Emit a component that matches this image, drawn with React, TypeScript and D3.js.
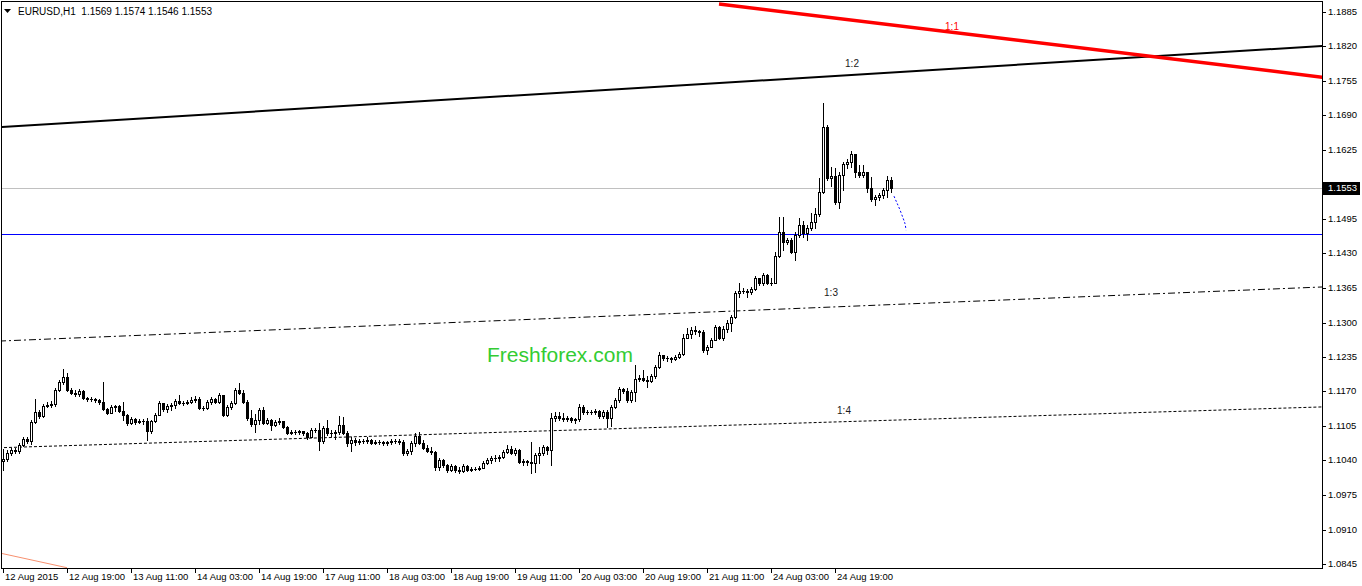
import React from 'react';
import * as d3 from 'd3';

// ---------- DATA ----------
const headerSymbol = 'EURUSD,H1';
const headerValues = ['1.1569', '1.1574', '1.1546', '1.1553'];
const firstOpen = 1.1039;

const closes = [
  1.1043, 1.1054, 1.1060, 1.1058, 1.1069, 1.1080, 1.1077, 1.1112, 1.1131, 1.1124,
  1.1143, 1.1144, 1.1146, 1.1173, 1.1188, 1.1197, 1.1173, 1.1167, 1.1165, 1.1171,
  1.1158, 1.1156, 1.1156, 1.1154, 1.1150, 1.1137, 1.1129, 1.1141, 1.1143, 1.1133,
  1.1126, 1.1111, 1.1118, 1.1112, 1.1114, 1.1114, 1.1096, 1.1114, 1.1126, 1.1148,
  1.1137, 1.1143, 1.1144, 1.1152, 1.1148, 1.1148, 1.1150, 1.1154, 1.1156, 1.1139,
  1.1139, 1.1150, 1.1156, 1.1150, 1.1163, 1.1126, 1.1141, 1.1148, 1.1173, 1.1167,
  1.1150, 1.1120, 1.1109, 1.1116, 1.1135, 1.1111, 1.1116, 1.1107, 1.1112, 1.1114,
  1.1103, 1.1092, 1.1094, 1.1094, 1.1096, 1.1092, 1.1084, 1.1097, 1.1097, 1.1077,
  1.1101, 1.1092, 1.1092, 1.1094, 1.1107, 1.1092, 1.1073, 1.1079, 1.1075, 1.1077,
  1.1077, 1.1079, 1.1073, 1.1075, 1.1075, 1.1073, 1.1075, 1.1077, 1.1077, 1.1075,
  1.1054, 1.1058, 1.1073, 1.1086, 1.1073, 1.1064, 1.1058, 1.1056, 1.1028, 1.1041,
  1.1031, 1.1022, 1.1030, 1.1022, 1.1020, 1.1030, 1.1022, 1.1024, 1.1024, 1.1026,
  1.1035, 1.1041, 1.1045, 1.1045, 1.1047, 1.1056, 1.1062, 1.1054, 1.1060, 1.1037,
  1.1039, 1.1037, 1.1035, 1.1050, 1.1054, 1.1065, 1.1060, 1.1120, 1.1124, 1.1120,
  1.1118, 1.1120, 1.1116, 1.1118, 1.1141, 1.1131, 1.1131, 1.1131, 1.1133, 1.1124,
  1.1131, 1.1120, 1.1141, 1.1154, 1.1175, 1.1171, 1.1154, 1.1169, 1.1194, 1.1195,
  1.1192, 1.1190, 1.1199, 1.1216, 1.1239, 1.1233, 1.1233, 1.1231, 1.1235, 1.1240,
  1.1270, 1.1278, 1.1286, 1.1284, 1.1282, 1.1248, 1.1254, 1.1267, 1.1291, 1.1270,
  1.1288, 1.1299, 1.1310, 1.1355, 1.1359, 1.1359, 1.1357, 1.1363, 1.1383, 1.1374,
  1.1389, 1.1374, 1.1374, 1.1426, 1.1470, 1.1451, 1.1455, 1.1433, 1.1465, 1.1484,
  1.1469, 1.1478, 1.1489, 1.1504, 1.1546, 1.1668, 1.1572, 1.1576, 1.1527, 1.1578,
  1.1598, 1.1602, 1.1617, 1.1583, 1.1578, 1.1583, 1.1553, 1.1533, 1.1537, 1.1540,
  1.1550, 1.1569, 1.1553,
];

const highs = [
  1.1062, 1.1060, 1.1064, 1.1064, 1.1073, 1.1084, 1.1084, 1.1116, 1.1156, 1.1135,
  1.1146, 1.1150, 1.1152, 1.1177, 1.1192, 1.1212, 1.1205, 1.1177, 1.1173, 1.1175,
  1.1173, 1.1160, 1.1160, 1.1158, 1.1156, 1.1188, 1.1139, 1.1144, 1.1144, 1.1144,
  1.1150, 1.1128, 1.1122, 1.1120, 1.1118, 1.1118, 1.1120, 1.1116, 1.1129, 1.1152,
  1.1148, 1.1146, 1.1148, 1.1156, 1.1163, 1.1152, 1.1154, 1.1160, 1.1161, 1.1160,
  1.1143, 1.1154, 1.1160, 1.1158, 1.1167, 1.1161, 1.1144, 1.1152, 1.1177, 1.1186,
  1.1173, 1.1154, 1.1135, 1.1128, 1.1139, 1.1141, 1.1120, 1.1118, 1.1116, 1.1120,
  1.1114, 1.1105, 1.1097, 1.1097, 1.1097, 1.1096, 1.1094, 1.1101, 1.1101, 1.1111,
  1.1105, 1.1116, 1.1097, 1.1097, 1.1124, 1.1122, 1.1096, 1.1084, 1.1082, 1.1080,
  1.1080, 1.1084, 1.1080, 1.1079, 1.1079, 1.1077, 1.1077, 1.1080, 1.1080, 1.1080,
  1.1079, 1.1062, 1.1077, 1.1092, 1.1094, 1.1079, 1.1069, 1.1065, 1.1058, 1.1045,
  1.1043, 1.1033, 1.1033, 1.1031, 1.1028, 1.1033, 1.1031, 1.1028, 1.1028, 1.1030,
  1.1039, 1.1045, 1.1049, 1.1050, 1.1050, 1.1060, 1.1069, 1.1067, 1.1064, 1.1062,
  1.1043, 1.1041, 1.1075, 1.1054, 1.1065, 1.1069, 1.1067, 1.1129, 1.1131, 1.1131,
  1.1129, 1.1124, 1.1122, 1.1120, 1.1146, 1.1144, 1.1135, 1.1135, 1.1137, 1.1135,
  1.1135, 1.1135, 1.1144, 1.1158, 1.1178, 1.1177, 1.1177, 1.1173, 1.1220, 1.1201,
  1.1211, 1.1199, 1.1203, 1.1220, 1.1244, 1.1239, 1.1237, 1.1235, 1.1239, 1.1244,
  1.1278, 1.1289, 1.1291, 1.1293, 1.1286, 1.1286, 1.1258, 1.1271, 1.1295, 1.1293,
  1.1293, 1.1305, 1.1314, 1.1359, 1.1374, 1.1365, 1.1363, 1.1367, 1.1387, 1.1382,
  1.1393, 1.1391, 1.1384, 1.1432, 1.1499, 1.1499, 1.1459, 1.1459, 1.1470, 1.1497,
  1.1491, 1.1484, 1.1506, 1.1516, 1.1572, 1.1714, 1.1672, 1.1593, 1.1591, 1.1584,
  1.1602, 1.1608, 1.1623, 1.1612, 1.1596, 1.1596, 1.1584, 1.1574, 1.1540, 1.1544,
  1.1553, 1.1576, 1.1574,
];

const lows = [
  1.1022, 1.1039, 1.1050, 1.1054, 1.1054, 1.1067, 1.1073, 1.1071, 1.1111, 1.1120,
  1.1122, 1.1141, 1.1141, 1.1143, 1.1171, 1.1184, 1.1171, 1.1165, 1.1161, 1.1161,
  1.1156, 1.1152, 1.1152, 1.1150, 1.1146, 1.1135, 1.1128, 1.1129, 1.1133, 1.1131,
  1.1116, 1.1107, 1.1109, 1.1109, 1.1111, 1.1109, 1.1079, 1.1092, 1.1112, 1.1126,
  1.1133, 1.1131, 1.1135, 1.1139, 1.1146, 1.1144, 1.1146, 1.1148, 1.1150, 1.1137,
  1.1135, 1.1137, 1.1146, 1.1148, 1.1148, 1.1124, 1.1124, 1.1137, 1.1146, 1.1165,
  1.1148, 1.1116, 1.1105, 1.1094, 1.1109, 1.1109, 1.1109, 1.1097, 1.1105, 1.1109,
  1.1101, 1.1090, 1.1090, 1.1090, 1.1090, 1.1088, 1.1080, 1.1084, 1.1094, 1.1060,
  1.1073, 1.1088, 1.1086, 1.1080, 1.1090, 1.1090, 1.1067, 1.1058, 1.1069, 1.1071,
  1.1073, 1.1073, 1.1071, 1.1071, 1.1071, 1.1069, 1.1069, 1.1071, 1.1073, 1.1071,
  1.1050, 1.1050, 1.1052, 1.1067, 1.1071, 1.1062, 1.1056, 1.1052, 1.1022, 1.1022,
  1.1028, 1.1018, 1.1020, 1.1018, 1.1016, 1.1018, 1.1020, 1.1020, 1.1022, 1.1022,
  1.1026, 1.1033, 1.1035, 1.1039, 1.1039, 1.1045, 1.1054, 1.1052, 1.1050, 1.1035,
  1.1031, 1.1031, 1.1016, 1.1018, 1.1035, 1.1050, 1.1052, 1.1031, 1.1114, 1.1116,
  1.1114, 1.1114, 1.1112, 1.1111, 1.1114, 1.1128, 1.1128, 1.1128, 1.1128, 1.1120,
  1.1120, 1.1103, 1.1105, 1.1139, 1.1150, 1.1167, 1.1150, 1.1150, 1.1152, 1.1190,
  1.1190, 1.1178, 1.1188, 1.1195, 1.1214, 1.1229, 1.1227, 1.1225, 1.1229, 1.1233,
  1.1239, 1.1270, 1.1270, 1.1278, 1.1275, 1.1244, 1.1241, 1.1254, 1.1267, 1.1269,
  1.1267, 1.1282, 1.1284, 1.1308, 1.1348, 1.1355, 1.1348, 1.1353, 1.1361, 1.1370,
  1.1370, 1.1372, 1.1370, 1.1380, 1.1423, 1.1437, 1.1448, 1.1431, 1.1418, 1.1461,
  1.1461, 1.1455, 1.1474, 1.1478, 1.1501, 1.1544, 1.1569, 1.1557, 1.1523, 1.1516,
  1.1550, 1.1591, 1.1593, 1.1574, 1.1574, 1.1574, 1.1546, 1.1529, 1.1521, 1.1531,
  1.1535, 1.1537, 1.1546,
];

const priceTicks = [
  1.0845, 1.0910, 1.0975, 1.1040, 1.1105, 1.1170, 1.1235, 1.1300, 1.1365,
  1.1430, 1.1495, 1.1560, 1.1625, 1.1690, 1.1755, 1.1820, 1.1885,
];

const timeLabels = [
  '12 Aug 2015', '12 Aug 19:00', '13 Aug 11:00', '14 Aug 03:00', '14 Aug 19:00',
  '17 Aug 11:00', '18 Aug 03:00', '18 Aug 19:00', '19 Aug 11:00', '20 Aug 03:00',
  '20 Aug 19:00', '21 Aug 11:00', '24 Aug 03:00', '24 Aug 19:00',
];
const barsPerTimeLabel = 16;

const bidPrice = 1.1553;
const bluePrice = 1.1467;

// trend lines: [barIndex, price]
const line11: [number, number][] = [[179, 1.1900], [330, 1.1762]];
const line12: [number, number][] = [[-1, 1.1668], [330, 1.1821]];
const line13: [number, number][] = [[-1, 1.1265], [330, 1.1367]];
const line14: [number, number][] = [[-1, 1.1064], [330, 1.1141]];
const salmonLine: [number, number][] = [[-1, 1.0866], [16, 1.0838]];
const projection: [number, number][] = [
  [222.75, 1.1538], [223.5, 1.1525], [224.25, 1.1512], [225, 1.1497], [225.5, 1.1486], [225.75, 1.1474],
];
const lineLabels = [
  { text: '1:1', i: 237.25, p: 1.1856 },
  { text: '1:2', i: 212.25, p: 1.1787 },
  { text: '1:3', i: 207, p: 1.1354 },
  { text: '1:4', i: 210.25, p: 1.1133 },
];
const watermark = 'Freshforex.com';

// ---------- CHART ----------
const W = 1362;
const H = 586;
const plotRight = 1322;
const plotBottom = 568;

export default function App() {
  const x = d3.scaleLinear().domain([0, 1]).range([3, 7]);
  const y = d3.scaleLinear().domain([1.0845, 1.1885]).range([564, 12]);

  const candles = closes.map((c, i) => {
    const o = i === 0 ? firstOpen : closes[i - 1];
    const h = Math.max(highs[i], o, c);
    const l = Math.min(lows[i], o, c);
    return { i, o, h, l, c };
  });

  const font = "'Liberation Sans', Arial, sans-serif";
  const lineGen = d3
    .line<[number, number]>()
    .x((d) => x(d[0]))
    .y((d) => y(d[1]));
  const curveGen = d3
    .line<[number, number]>()
    .x((d) => x(d[0]))
    .y((d) => y(d[1]))
    .curve(d3.curveNatural);

  const headerText = headerSymbol + '\u00A0\u00A0' + headerValues.join('\u00A0');

  return (
    <svg
      width={W}
      height={H}
      style={{ position: 'absolute', left: 0, top: 0, background: '#fff' }}
      fontFamily={font}
    >
      <defs>
        <clipPath id="plot">
          <rect x={2} y={2} width={plotRight - 2} height={plotBottom - 2} />
        </clipPath>
      </defs>
      <rect x={0} y={0} width={W} height={H} fill="#fff" />

      <g clipPath="url(#plot)">
        {/* horizontal lines */}
        <line x1={0} x2={plotRight} y1={Math.round(y(bidPrice)) + 0.5} y2={Math.round(y(bidPrice)) + 0.5} stroke="#c0c0c0" strokeWidth={1} shapeRendering="crispEdges" />
        <line x1={0} x2={plotRight} y1={Math.round(y(bluePrice)) + 0.5} y2={Math.round(y(bluePrice)) + 0.5} stroke="#0000ff" strokeWidth={1} shapeRendering="crispEdges" />

        {/* trend lines */}
        <path d={lineGen(line14) || ''} stroke="#000" strokeWidth={1} fill="none" strokeDasharray="3,2" />
        <path d={lineGen(line13) || ''} stroke="#000" strokeWidth={1} fill="none" strokeDasharray="7,3,2,3" />
        <path d={lineGen(line12) || ''} stroke="#000" strokeWidth={2} fill="none" />
        <path d={lineGen(line11) || ''} stroke="#ff0000" strokeWidth={3.5} fill="none" />
        <path d={lineGen(salmonLine) || ''} stroke="#f7906f" strokeWidth={1} fill="none" />

        {/* watermark */}
        <text x={487} y={362} fontSize={21} fill="#33cc33" fontFamily={font}>
          {watermark}
        </text>

        {/* candles */}
        {candles.map((d) => {
          const cx = Math.round(x(d.i));
          const yo = Math.round(y(d.o));
          const yc = Math.round(y(d.c));
          const top = Math.min(yo, yc);
          const bot = Math.max(yo, yc);
          const bull = d.c >= d.o;
          return (
            <g key={d.i} shapeRendering="crispEdges">
              <line x1={cx + 0.5} x2={cx + 0.5} y1={Math.round(y(d.h))} y2={Math.round(y(d.l)) + 1} stroke="#000" strokeWidth={1} />
              {bot - top < 1 ? (
                <line x1={cx - 1} x2={cx + 2} y1={top + 0.5} y2={top + 0.5} stroke="#000" strokeWidth={1} />
              ) : (
                <rect x={cx - 0.5} y={top + 0.5} width={2} height={bot - top} fill={bull ? '#fff' : '#000'} stroke="#000" strokeWidth={1} />
              )}
            </g>
          );
        })}

        {/* projection dotted curve */}
        <path d={curveGen(projection) || ''} stroke="#0000ff" strokeWidth={1} fill="none" strokeDasharray="2,2" />

        {/* line labels */}
        {lineLabels.map((l) => (
          <text
            key={l.text}
            x={x(l.i)}
            y={y(l.p)}
            fontSize={10}
            textAnchor="middle"
            dominantBaseline="middle"
            fill={l.text === '1:1' ? '#ff0000' : '#1a1a1a'}
          >
            {l.text}
          </text>
        ))}
      </g>

      {/* frame */}
      <rect x={1.5} y={1.5} width={plotRight - 1} height={plotBottom - 1} fill="none" stroke="#000" strokeWidth={1} shapeRendering="crispEdges" />

      {/* header */}
      <path d="M4,9 L11,9 L7.5,13 Z" fill="#000" />
      <text x={18} y={15} fontSize={10} fill="#000">
        {headerText}
      </text>

      {/* right axis */}
      {priceTicks.map((p) => {
        const yy = Math.round(y(p)) + 0.5;
        return (
          <g key={p}>
            <line x1={plotRight} x2={plotRight + 4} y1={yy} y2={yy} stroke="#000" shapeRendering="crispEdges" />
            <text x={plotRight + 6} y={yy} fontSize={9.5} dominantBaseline="middle" fill="#000">
              {d3.format('.4f')(p)}
            </text>
          </g>
        );
      })}
      {/* bid price box */}
      <rect x={plotRight + 1} y={Math.round(y(bidPrice)) - 6} width={37} height={13} fill="#000" />
      <text x={plotRight + 6} y={Math.round(y(bidPrice)) + 0.5} fontSize={9.5} dominantBaseline="middle" fill="#fff">
        {d3.format('.4f')(bidPrice)}
      </text>

      {/* bottom axis */}
      {timeLabels.map((t, k) => {
        const xx = Math.round(x(k * barsPerTimeLabel)) + 0.5;
        return (
          <g key={t}>
            <line x1={xx} x2={xx} y1={plotBottom} y2={plotBottom + 5} stroke="#000" shapeRendering="crispEdges" />
            <text x={xx + 1.5} y={580} fontSize={9.5} fill="#000">
              {t}
            </text>
          </g>
        );
      })}
    </svg>
  );
}
